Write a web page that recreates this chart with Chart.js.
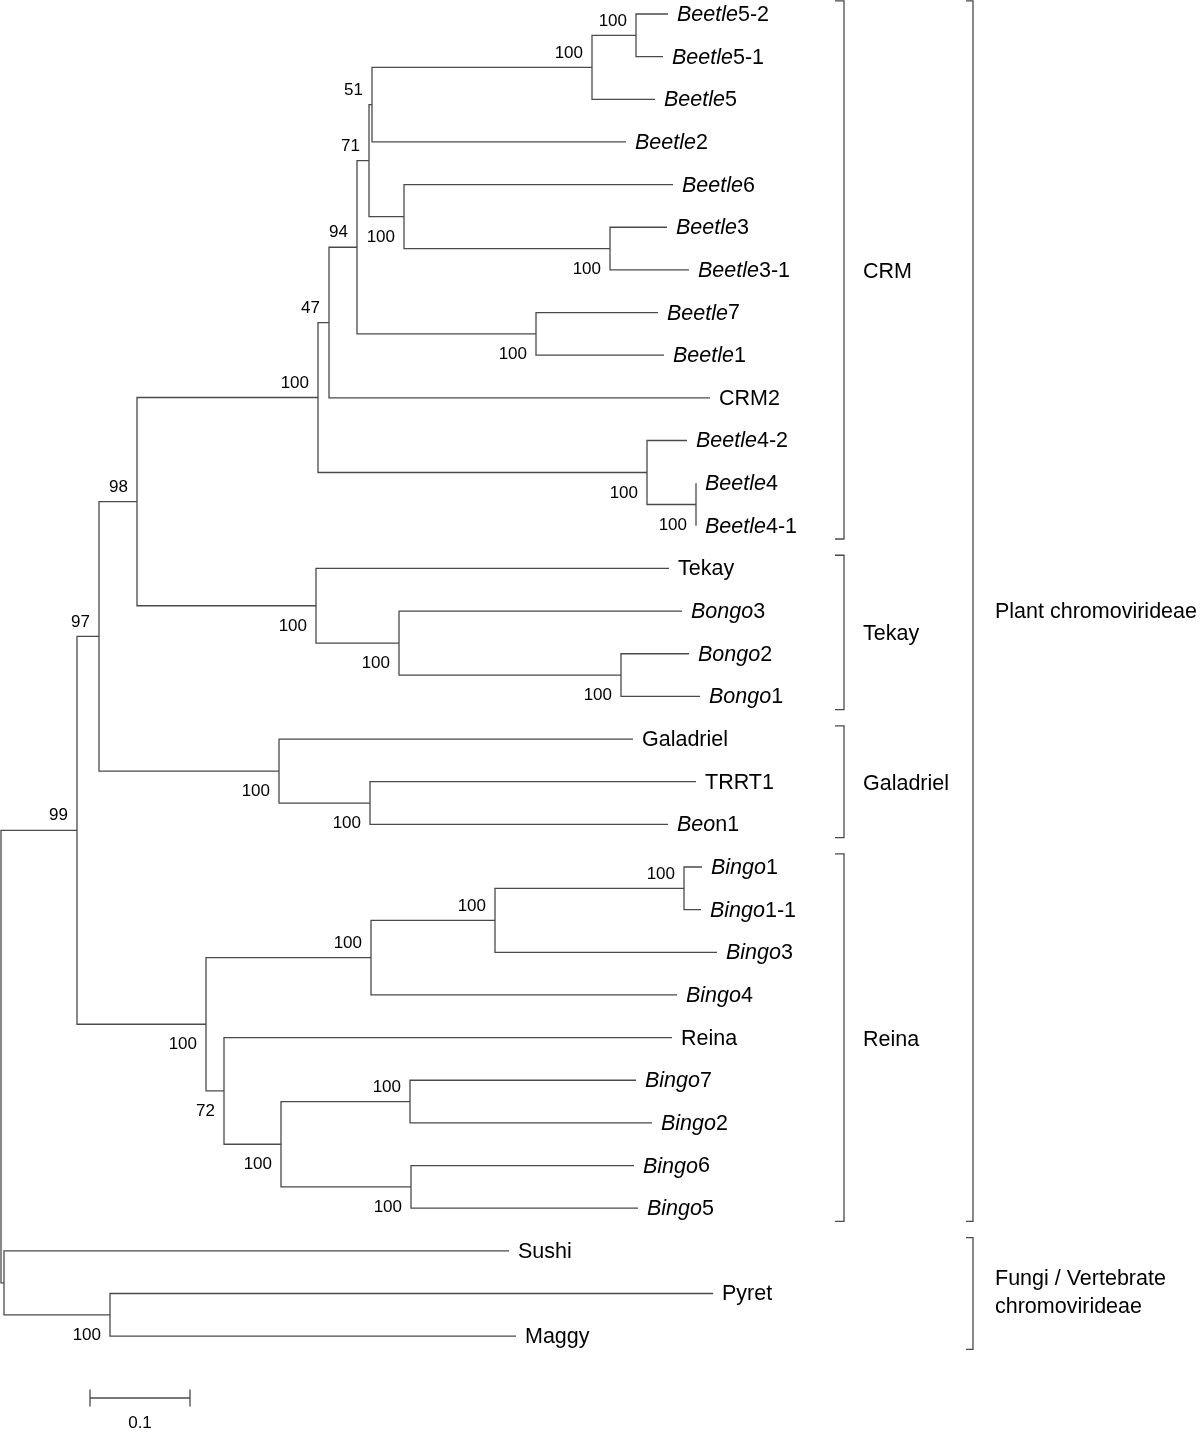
<!DOCTYPE html>
<html><head><meta charset="utf-8">
<script src="https://cdn.jsdelivr.net/npm/chart.js@4/dist/chart.umd.min.js"></script>
<style>html,body{margin:0;padding:0;background:#fff}#wrap{width:1200px;height:1433px}canvas{display:block}</style>
</head><body><div id="wrap"><canvas id="c" width="1200" height="1433"></canvas></div>
<script>
// ---- leaves (top to bottom) ----
const leafItalic = ['Beetle','Beetle','Beetle','Beetle','Beetle','Beetle','Beetle','Beetle','Beetle','',
  'Beetle','Beetle','Beetle','','Bongo','Bongo','Bongo','','','Beo',
  'Bingo','Bingo','Bingo','Bingo','','Bingo','Bingo','Bingo','Bingo','','',''];
const leafRoman = ['5-2','5-1','5','2','6','3','3-1','7','1','CRM2',
  '4-2','4','4-1','Tekay','3','2','1','Galadriel','TRRT1','n1',
  '1','1-1','3','4','Reina','7','2','6','5','Sushi','Pyret','Maggy'];
const leafDepth = [0.667,0.662,0.654,0.625,0.672,0.666,0.688,0.657,0.663,0.709,
  0.686,0.695,0.695,0.668,0.681,0.688,0.699,0.632,0.695,0.667,
  0.701,0.700,0.716,0.676,0.671,0.635,0.651,0.633,0.637,0.508,0.712,0.515];

// ---- internal nodes (ids 32..62), children refer to leaf ids (<32) or node ids ----
const nodeChildren = [[0,1],[32,2],[33,3],[5,6],[4,35],[34,36],[7,8],[37,38],[39,9],[11,12],
  [10,41],[40,42],[15,16],[14,44],[13,45],[43,46],[18,19],[17,48],[47,49],[20,21],
  [51,22],[52,23],[25,26],[27,28],[54,55],[24,56],[53,57],[50,58],[30,31],[29,60],[59,61]];
const nodeDepth = [0.635,0.591,0.371,0.609,0.403,0.368,0.535,0.356,0.328,0.695,
  0.646,0.317,0.620,0.398,0.315,0.136,0.369,0.278,0.098,0.683,
  0.494,0.370,0.409,0.410,0.280,0.223,0.205,0.076,0.109,0.003,0.000];
const nodeSupport = [100,100,51,100,100,71,100,94,47,100,
  100,100,100,100,100,98,100,100,97,100,
  100,100,100,100,100,72,100,99,100,null,null];
const supportSide = ['a','a','a','b','b','a','b','a','a','b',
  'b','a','b','b','b','a','b','b','a','a',
  'a','a','a','b','b','b','b','a','b','',''];

// ---- clade brackets ----
const groupNames = ['CRM','Tekay','Galadriel','Reina'];
const groupFirst = [0,13,17,20];
const groupLast  = [12,16,19,28];
const superNames = [['Plant chromovirideae'],['Fungi / Vertebrate','chromovirideae']];
const superFirst = [0,29];
const superLast  = [28,31];
const scaleBarValue = 0.1;
const scaleBarLabel = '0.1';

// ---- layout ----
const NLEAF = leafRoman.length;
const yOf = new Array(NLEAF + nodeChildren.length);
const xOf = new Array(NLEAF + nodeChildren.length);
for (let i = 0; i < NLEAF; i++) { yOf[i] = i; xOf[i] = leafDepth[i]; }
nodeChildren.forEach((ch, k) => {
  const id = NLEAF + k;
  yOf[id] = (yOf[ch[0]] + yOf[ch[1]]) / 2;
  xOf[id] = nodeDepth[k];
});

const LINE = '#4a4a4a';
const datasets = [];
nodeChildren.forEach((ch, k) => {
  const nx = nodeDepth[k];
  const [a, b] = ch;
  datasets.push({
    data: [{x: xOf[a], y: yOf[a]}, {x: nx, y: yOf[a]}, {x: nx, y: yOf[b]}, {x: xOf[b], y: yOf[b]}],
    borderColor: LINE, borderWidth: 1.3
  });
});
const PAD = 0.31;
const IN_X = 0.843, IN_T = 0.834, OUT_X = 0.972, OUT_T = 0.965;
groupNames.forEach((g, i) => {
  const y0 = groupFirst[i] - PAD, y1 = groupLast[i] + PAD;
  datasets.push({data: [{x: IN_T, y: y0}, {x: IN_X, y: y0}, {x: IN_X, y: y1}, {x: IN_T, y: y1}], borderColor: LINE, borderWidth: 1.3});
});
superNames.forEach((g, i) => {
  const y0 = superFirst[i] - PAD, y1 = superLast[i] + PAD;
  datasets.push({data: [{x: OUT_T, y: y0}, {x: OUT_X, y: y0}, {x: OUT_X, y: y1}, {x: OUT_T, y: y1}], borderColor: LINE, borderWidth: 1.3});
});
const SB_X = 0.089, SB_Y = 32.45, SB_T = 0.2;
datasets.push({data: [{x: SB_X, y: SB_Y}, {x: SB_X + scaleBarValue, y: SB_Y}], borderColor: LINE, borderWidth: 1.3});
datasets.push({data: [{x: SB_X, y: SB_Y - SB_T}, {x: SB_X, y: SB_Y + SB_T}], borderColor: LINE, borderWidth: 1.3});
datasets.push({data: [{x: SB_X + scaleBarValue, y: SB_Y - SB_T}, {x: SB_X + scaleBarValue, y: SB_Y + SB_T}], borderColor: LINE, borderWidth: 1.3});
datasets.forEach(d => { d.showLine = true; d.pointRadius = 0; d.tension = 0; d.fill = false; d.clip = false; });

const FONT = '"Liberation Sans", Arial, Helvetica, sans-serif';
const labelPlugin = {
  id: 'treeLabels',
  afterDatasetsDraw(chart) {
    const ctx = chart.ctx, xs = chart.scales.x, ys = chart.scales.y;
    ctx.save();
    ctx.fillStyle = '#000';
    ctx.textBaseline = 'middle';
    // leaf labels
    for (let i = 0; i < NLEAF; i++) {
      let px = xs.getPixelForValue(leafDepth[i]) + 9;
      const py = ys.getPixelForValue(i) + 1;
      ctx.textAlign = 'left';
      if (leafItalic[i]) {
        ctx.font = 'italic 21.5px ' + FONT;
        ctx.fillText(leafItalic[i], px, py);
        px += ctx.measureText(leafItalic[i]).width;
      }
      ctx.font = '21.5px ' + FONT;
      ctx.fillText(leafRoman[i], px, py);
    }
    // bootstrap values
    ctx.font = '17px ' + FONT;
    ctx.textAlign = 'right';
    nodeChildren.forEach((ch, k) => {
      if (nodeSupport[k] == null) return;
      const px = xs.getPixelForValue(nodeDepth[k]) - 9;
      const py = ys.getPixelForValue(yOf[NLEAF + k]) + (supportSide[k] === 'a' ? -14.5 : 20.5);
      ctx.fillText(String(nodeSupport[k]), px, py);
    });
    // group labels
    ctx.font = '21.5px ' + FONT;
    ctx.textAlign = 'left';
    groupNames.forEach((g, i) => {
      const py = ys.getPixelForValue((groupFirst[i] + groupLast[i]) / 2 + 0.05);
      ctx.fillText(g, xs.getPixelForValue(0.862), py);
    });
    superNames.forEach((lines, i) => {
      const c = ys.getPixelForValue((superFirst[i] + superLast[i]) / 2);
      const lh = 28;
      lines.forEach((t, j) => {
        ctx.fillText(t, xs.getPixelForValue(0.994), c + (j - (lines.length - 1) / 2) * lh - (lines.length > 1 ? 0 : -1));
      });
    });
    // scale bar label
    ctx.font = '17px ' + FONT;
    ctx.textAlign = 'center';
    ctx.fillText(scaleBarLabel, xs.getPixelForValue(SB_X + scaleBarValue / 2), ys.getPixelForValue(SB_Y) + 25);
    ctx.restore();
  }
};

const YMIN = -14 / 42.65;
new Chart(document.getElementById('c'), {
  type: 'scatter',
  data: { datasets },
  options: {
    responsive: false, animation: false, devicePixelRatio: 1,
    layout: { padding: 0 },
    plugins: { legend: { display: false }, tooltip: { enabled: false } },
    scales: {
      x: { type: 'linear', display: false, min: -0.001, max: 1.199 },
      y: { type: 'linear', display: false, reverse: true, min: YMIN, max: YMIN + 1433 / 42.65 }
    }
  },
  plugins: [labelPlugin]
});
</script>
</body></html>
